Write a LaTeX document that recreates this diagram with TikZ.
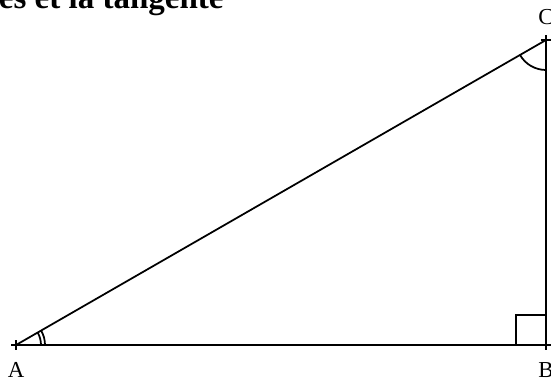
\documentclass[tikz,border=0pt]{standalone}
\usepackage{fontspec}
\setmainfont{Liberation Serif}
\usetikzlibrary{positioning, calc, angles}

\begin{document}
\begin{tikzpicture}[x=0.02cm, y=-0.02cm, line width=1pt,
    vertex/.style={font=\fontsize{13}{15}\selectfont, inner sep=1pt},
    tick/.style={line width=0.6pt}]
    \useasboundingbox (0,0) rectangle (551,380);
    \clip (0,0) rectangle (551,380);

    \coordinate (A) at (16,345);
    \coordinate (B) at (546,345);
    \coordinate (C) at (546,40);

    \node (Title) [anchor=base west, font=\bfseries\fontsize{18.8}{22}\selectfont, inner sep=0pt] at (-2,8) {es et la tangente};

    \draw (A) -- (B) -- (C) -- cycle;

    \foreach \p in {A,B,C}
        \draw[tick] ($(\p)+(-5,0)$) -- ($(\p)+(5,0)$) ($(\p)+(0,-5)$) -- ($(\p)+(0,5)$);

    \draw ($(B)+(-30,0)$) -- ($(B)+(-30,-30)$) -- ($(B)+(0,-30)$);

    \pic[draw, angle radius=0.5cm] {angle = B--A--C};
    \pic[draw, angle radius=0.58cm] {angle = B--A--C};
    \pic[draw, angle radius=0.6cm] {angle = A--C--B};

    \node (LA) [vertex, below=0.3cm of A] {A};
    \node (LB) [vertex, below=0.3cm of B] {B};
    \node (LC) [vertex, above=0.26cm of C] {C};
\end{tikzpicture}
\end{document}
